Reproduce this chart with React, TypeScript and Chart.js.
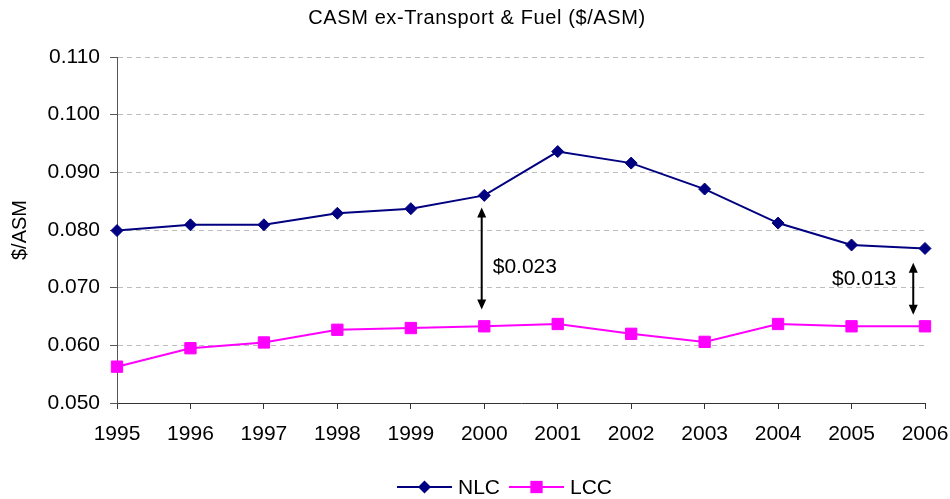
import React, { useEffect, useRef } from 'react';
import { Chart, registerables } from 'chart.js';

Chart.register(...registerables);

const years = ['1995', '1996', '1997', '1998', '1999', '2000', '2001', '2002', '2003', '2004', '2005', '2006'];
const nlcValues = [0.0799, 0.0809, 0.0809, 0.0829, 0.0837, 0.086, 0.0936, 0.0916, 0.0871, 0.0812, 0.0774, 0.0768];
const lccValues = [0.0563, 0.0595, 0.0605, 0.0627, 0.063, 0.0633, 0.0637, 0.062, 0.0606, 0.0637, 0.0633, 0.0633];
const seriesNames = ['NLC', 'LCC'];
const chartTitle = 'CASM ex-Transport & Fuel ($/ASM)';
const yAxisTitle = '$/ASM';
const yMin = 0.05;
const yMax = 0.11;
const yStep = 0.01;

// gap annotations (category index / value units)
const gapLabels = ['$0.023', '$0.013'];
const gapX = [4.965, 10.84];
const gapTop = [0.0839, 0.0743];
const gapBottom = [0.0662, 0.0653];
const gapLabelY = [0.0736, 0.0714];
const gapLabelSide = ['right', 'left'];

const FONT = '"Liberation Sans", Arial, sans-serif';

const overlayPlugin = {
  id: 'overlay',
  afterDraw(chart: any) {
    const { ctx, scales } = chart;
    const xs = scales.x;
    const ys = scales.y;
    ctx.save();
    // title
    ctx.fillStyle = '#000';
    ctx.font = `20px ${FONT}`;
    ctx.textAlign = 'center';
    ctx.textBaseline = 'middle';
    try { (ctx as any).letterSpacing = '0.6px'; } catch (e) {}
    ctx.fillText(chartTitle, chart.width / 2 + 2, 18);
    try { (ctx as any).letterSpacing = '0px'; } catch (e) {}

    // gap arrows
    ctx.strokeStyle = '#000';
    ctx.fillStyle = '#000';
    ctx.lineWidth = 2;
    for (let i = 0; i < gapLabels.length; i++) {
      const x = xs.getPixelForValue(gapX[i]);
      const y1 = ys.getPixelForValue(gapTop[i]);
      const y2 = ys.getPixelForValue(gapBottom[i]);
      const head = 10;
      const hw = 4.5;
      ctx.beginPath();
      ctx.moveTo(x, y1 + head - 1);
      ctx.lineTo(x, y2 - head + 1);
      ctx.stroke();
      ctx.beginPath();
      ctx.moveTo(x, y1);
      ctx.lineTo(x - hw, y1 + head);
      ctx.lineTo(x + hw, y1 + head);
      ctx.closePath();
      ctx.fill();
      ctx.beginPath();
      ctx.moveTo(x, y2);
      ctx.lineTo(x - hw, y2 - head);
      ctx.lineTo(x + hw, y2 - head);
      ctx.closePath();
      ctx.fill();
      ctx.font = `21px ${FONT}`;
      ctx.textBaseline = 'middle';
      const ly = ys.getPixelForValue(gapLabelY[i]);
      if (gapLabelSide[i] === 'right') {
        ctx.textAlign = 'left';
        ctx.fillText(gapLabels[i], x + 11, ly);
      } else {
        ctx.textAlign = 'right';
        ctx.fillText(gapLabels[i], x - 17, ly);
      }
    }

    // legend
    ctx.font = `21px ${FONT}`;
    ctx.textBaseline = 'middle';
    ctx.textAlign = 'left';
    const lineLen = 55;
    const gapText = 6;
    const gapItem = 9;
    const ds = chart.data.datasets;
    const widths = ds.map((d: any) => lineLen + gapText + ctx.measureText(d.label).width);
    const total = widths.reduce((a: number, b: number) => a + b, 0) + gapItem * (ds.length - 1);
    let lx = 504.5 - total / 2;
    const ly = 487;
    ds.forEach((d: any, i: number) => {
      ctx.strokeStyle = d.borderColor;
      ctx.lineWidth = 2;
      ctx.beginPath();
      ctx.moveTo(lx, ly);
      ctx.lineTo(lx + lineLen, ly);
      ctx.stroke();
      const cx = lx + lineLen / 2;
      ctx.fillStyle = d.pointBackgroundColor;
      ctx.beginPath();
      if (d.pointStyle === 'rectRot') {
        const r = d.pointRadius + 0.5;
        ctx.moveTo(cx - r, ly);
        ctx.lineTo(cx, ly - r);
        ctx.lineTo(cx + r, ly);
        ctx.lineTo(cx, ly + r);
        ctx.closePath();
      } else {
        const s = d.pointRadius * Math.SQRT1_2 + 0.5;
        ctx.rect(cx - s, ly - s, 2 * s, 2 * s);
      }
      ctx.fill();
      ctx.fillStyle = '#000';
      ctx.fillText(d.label, lx + lineLen + gapText, ly + 1);
      lx += widths[i] + gapItem;
    });
    ctx.restore();
  },
};

export default function App() {
  const canvasRef = useRef<HTMLCanvasElement | null>(null);
  useEffect(() => {
    if (!canvasRef.current) return;
    const chart = new Chart(canvasRef.current, {
      type: 'line',
      data: {
        labels: years,
        datasets: [
          {
            label: seriesNames[0],
            data: nlcValues,
            borderColor: '#000080',
            backgroundColor: '#000080',
            pointBackgroundColor: '#000080',
            pointBorderColor: '#000080',
            pointStyle: 'rectRot',
            pointRadius: 6,
            pointBorderWidth: 1,
            borderWidth: 2,
            tension: 0,
            clip: false as any,
          },
          {
            label: seriesNames[1],
            data: lccValues,
            borderColor: '#FF00FF',
            backgroundColor: '#FF00FF',
            pointBackgroundColor: '#FF00FF',
            pointBorderColor: '#FF00FF',
            pointStyle: 'rect',
            pointRadius: 8,
            pointBorderWidth: 1,
            borderWidth: 2,
            tension: 0,
            clip: false as any,
          },
        ],
      },
      options: {
        responsive: false,
        animation: false,
        layout: { padding: { top: 57, right: 25, left: 0, bottom: 0 } },
        plugins: {
          legend: { display: false },
          title: { display: false },
          tooltip: { enabled: false },
        },
        scales: {
          x: {
            type: 'category',
            offset: false,
            grid: {
              drawOnChartArea: false,
              drawTicks: true,
              tickLength: 6,
              tickColor: '#333',
              color: '#333',
            },
            border: { display: true, color: '#333', width: 1 },
            ticks: {
              color: '#000',
              font: { family: FONT, size: 21 },
              padding: 13,
              autoSkip: false,
              maxRotation: 0,
              minRotation: 0,
            },
            afterFit(scale: any) {
              scale.height = 96;
              scale.paddingLeft = 0;
              scale.paddingRight = 0;
            },
          },
          y: {
            min: yMin,
            max: yMax,
            grid: {
              color: '#bdbdbd',
              lineWidth: 1,
              tickLength: 7,
              tickColor: '#555',
              tickBorderDash: [],
            },
            border: { display: true, color: '#555', width: 1, dash: [5, 4] },
            ticks: {
              stepSize: yStep,
              color: '#000',
              font: { family: FONT, size: 21 },
              padding: 10,
              callback: (v: any) => Number(v).toFixed(3),
            },
            title: {
              display: true,
              text: yAxisTitle,
              color: '#000',
              font: { family: FONT, size: 20 },
              padding: { top: 8, bottom: 0 },
            },
            afterFit(scale: any) {
              scale.width = 117;
              scale.paddingTop = 0;
              scale.paddingBottom = 0;
            },
          },
        },
      },
      plugins: [overlayPlugin],
    } as any);
    return () => chart.destroy();
  }, []);
  return (
    <div style={{ position: 'fixed', left: 0, top: 0, width: 950, height: 499, background: '#fff' }}>
      <canvas ref={canvasRef} width={950} height={499} />
    </div>
  );
}
